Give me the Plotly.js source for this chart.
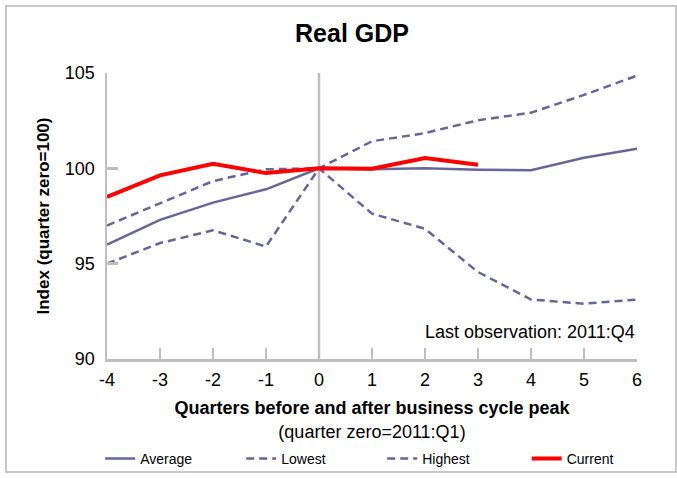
<!DOCTYPE html>
<html><head><meta charset="utf-8">
<script src="https://cdn.plot.ly/plotly-3.0.1.min.js"></script>
<style>
html,body{margin:0;padding:0;background:#fff;}
#wrap{position:relative;width:677px;height:478px;}
#frame{position:absolute;left:5px;top:5px;width:668px;height:464px;border:2px solid #c8c8c8;pointer-events:none;}
</style></head>
<body>
<div id="wrap"><div id="chart" style="width:677px;height:478px;"></div><div id="frame"></div></div>
<script>
const quarters = [-4, -3, -2, -1, 0, 1, 2, 3, 4, 5, 6];
const quarterLabels = ['-4', '-3', '-2', '-1', '0', '1', '2', '3', '4', '5', '6'];
const average  = [96.0, 97.3, 98.2, 98.9, 100.0, 99.95, 100.0, 99.93, 99.9, 100.55, 101.03];
const lowest   = [95.0, 96.08, 96.75, 95.9, 100.0, 97.62, 96.83, 94.56, 93.12, 92.9, 93.12];
const highest  = [97.0, 98.16, 99.33, 99.95, 100.0, 101.42, 101.85, 102.52, 102.92, 103.85, 104.86];
const currentQ = [-4, -3, -2, -1, 0, 1, 2, 3];
const current  = [98.5, 99.63, 100.24, 99.75, 100.0, 99.98, 100.54, 100.19];
const yTicks = [90, 95, 100, 105];

const purple = '#66669c';
const traces = [
  {x: quarters, y: average, name: 'Average', mode: 'lines', line: {color: purple, width: 2.5}},
  {x: quarters, y: lowest, name: 'Lowest', mode: 'lines', line: {color: purple, width: 2.5, dash: '8px,5px'}},
  {x: quarters, y: highest, name: 'Highest', mode: 'lines', line: {color: purple, width: 2.5, dash: '8px,5px'}},
  {x: currentQ, y: current, name: 'Current', mode: 'lines', line: {color: '#ff0000', width: 4}, legend: 'legend2'}
];
const axisColor = '#bfbfbf';
const legendBase = {orientation: 'h', xref: 'container', yref: 'container', xanchor: 'left', y: 0.04, yanchor: 'middle', font: {size: 14}, entrywidth: 96, entrywidthmode: 'pixels', bgcolor: 'rgba(0,0,0,0)'};
const layout = {
  width: 677, height: 478,
  margin: {l: 107, r: 40, t: 73, b: 119},
  paper_bgcolor: '#fff', plot_bgcolor: '#fff',
  font: {family: 'Liberation Sans, Arial, sans-serif', color: '#000'},
  title: {text: '<b>Real GDP</b>', font: {size: 25, color: '#000'}, x: 0.52, xanchor: 'center', y: 0.931, yanchor: 'middle'},
  xaxis: {
    range: [-4, 6], tickvals: quarters, ticktext: quarterLabels, ticks: 'inside', ticklen: 11, tickwidth: 2.5, tickcolor: axisColor,
    showline: true, linecolor: axisColor, linewidth: 2.5, showgrid: false, zeroline: false,
    tickfont: {size: 18}, ticklabelstandoff: 3,
    title: {text: '<b>Quarters before and after business cycle peak</b><br>(quarter zero=2011:Q1)', font: {size: 18}, standoff: 13}
  },
  yaxis: {
    range: [90, 105], tickvals: yTicks, ticks: 'inside', ticklen: 11, tickwidth: 2.5, tickcolor: axisColor,
    showline: true, linecolor: axisColor, linewidth: 2.5, showgrid: false, zeroline: false,
    tickfont: {size: 18}, ticklabelstandoff: 6,
    title: {text: '<b>Index (quarter zero=100)</b>', font: {size: 17}, standoff: 11}
  },
  shapes: [{type: 'line', xref: 'x', yref: 'y', x0: 0, x1: 0, y0: 90, y1: 105, line: {color: axisColor, width: 2.5}, layer: 'below'}],
  annotations: [{text: 'Last observation: 2011:Q4', xref: 'x', yref: 'y', x: 6, y: 91.4, xanchor: 'right', yanchor: 'middle', showarrow: false, font: {size: 18}}],
  showlegend: true,
  legend: Object.assign({}, legendBase, {x: 0.148}),
  legend2: Object.assign({}, legendBase, {x: 0.778})
};
Plotly.newPlot('chart', traces, layout, {displayModeBar: false, staticPlot: true});
</script>
</body></html>
